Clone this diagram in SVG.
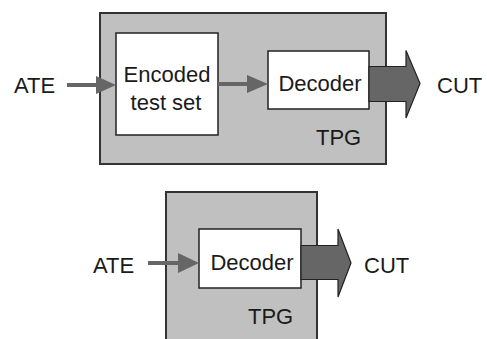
<svg xmlns="http://www.w3.org/2000/svg" width="487" height="339" viewBox="0 0 487 339">
<style>
.tpg{fill:#c0c0c0;stroke:#333;stroke-width:2}
.blk{fill:#fff;stroke:#222;stroke-width:1.5}
.lbl{font-family:"Liberation Sans",Arial,sans-serif;font-size:22px;fill:#1a1a1a}
.mid{text-anchor:middle}
.ln{stroke:#666;stroke-width:4;fill:none}
.hd{fill:#666;stroke:none}
.big{fill:#666;stroke:#222;stroke-width:1.2;stroke-linejoin:miter}
</style>
<rect width="487" height="339" fill="#fff"/>
<g id="tpg1">
<rect class="tpg" x="100" y="13" width="286" height="151"/>
<text class="lbl" x="316" y="145">TPG</text>
</g>
<g id="encoded">
<rect class="blk" x="116" y="33" width="102" height="102"/>
<text class="lbl mid" x="167" y="82">Encoded</text>
<text class="lbl mid" x="166" y="110">test set</text>
</g>
<g id="decoder1">
<rect class="blk" x="268" y="51" width="101" height="58"/>
<text class="lbl mid" x="320" y="91">Decoder</text>
</g>
<g id="ate1"><text class="lbl" x="14" y="93">ATE</text></g>
<g id="cut1"><text class="lbl" x="437" y="93">CUT</text></g>
<g id="tpg2">
<rect class="tpg" x="166" y="192" width="151" height="160"/>
<text class="lbl" x="248" y="324">TPG</text>
</g>
<g id="decoder2">
<rect class="blk" x="199" y="229" width="102" height="59"/>
<text class="lbl mid" x="252" y="270">Decoder</text>
</g>
<g id="ate2"><text class="lbl" x="93" y="273">ATE</text></g>
<g id="cut2"><text class="lbl" x="364" y="273">CUT</text></g>
<g id="connectors">
<line class="ln" x1="67" y1="85" x2="98" y2="85"/>
<polygon class="hd" points="96,76 116,85 96,94"/>
<line class="ln" x1="218" y1="84" x2="249" y2="84"/>
<polygon class="hd" points="247,75 268,84 247,93"/>
<polygon class="big" points="369,66.5 406,66.5 406,50.5 420,83.5 406,118 406,101.5 369,101.5"/>
<line class="ln" x1="148" y1="263" x2="180" y2="263"/>
<polygon class="hd" points="178,253 199,263 178,273"/>
<polygon class="big" points="301,245.5 338,245.5 338,229 351,263 338,297 338,279.5 301,279.5"/>
</g>
</svg>
